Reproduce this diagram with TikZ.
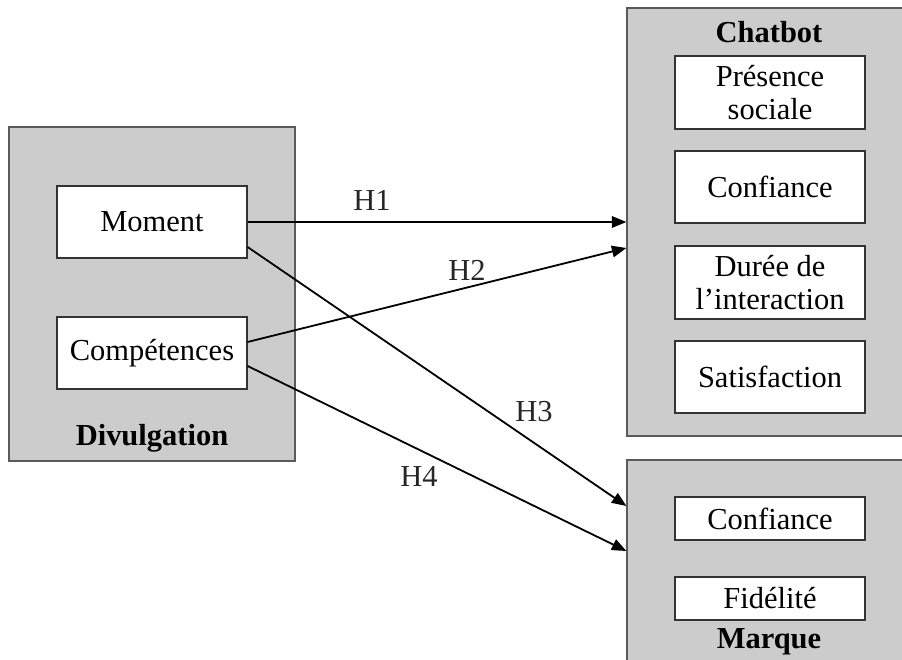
\documentclass[tikz,border=0pt]{standalone}
\usepackage{fontspec}
\setmainfont{Liberation Serif}
\usepackage{tikz}
\usetikzlibrary{arrows.meta,calc}
\definecolor{groupGray}{HTML}{CCCCCC}
\definecolor{groupEdge}{HTML}{5A5A5A}
\definecolor{itemEdge}{HTML}{333333}
\tikzset{
  >={Triangle[length=14.5bp,width=11.5bp]},
  every picture/.append style={font=\fontsize{30.6}{33.3}\selectfont},
  group/.style={rectangle,draw=groupEdge,line width=1.2bp,fill=groupGray,inner sep=0pt},
  item/.style={rectangle,draw=itemEdge,line width=1.1bp,fill=white,inner sep=0pt,align=center,minimum width=190bp},
  grouplabel/.style={font=\fontsize{30.6}{33.3}\selectfont\bfseries},
  hyplabel/.style={text=black!85},
  hyparrow/.style={->,line width=1.8bp},
}

\begin{document}
\begin{tikzpicture}[x=1bp,y=1bp]
  \useasboundingbox (0,0) rectangle (902,660);
  \clip (0,0) rectangle (902,660);

  % Divulgation
  \node[group, minimum width=286bp, minimum height=334bp] (divul) at (152,366) {};
  \node[grouplabel] (divultitle) at (152,222) {Divulgation};
  \node[item, minimum height=72bp] (moment) at (152,438) {Moment};
  \node[item, minimum height=72bp] (comp) at (152,307) {Compétences};

  % Chatbot
  \node[group, minimum width=303bp, minimum height=428bp] (chatbot) at (778.5,438) {};
  \node[grouplabel] (chatbottitle) at (769,628) {Chatbot};
  \node[item, minimum height=73bp] (presence) at (770,567.5) {Présence\\sociale};
  \node[item, minimum height=72bp] (confchat) at (770,473) {Confiance};
  \node[item, minimum height=73bp] (duree) at (770,377.5) {Durée de\\l’interaction};
  \node[item, minimum height=72bp] (satis) at (770,283) {Satisfaction};

  % Marque
  \node[group, minimum width=303bp, minimum height=220bp] (marque) at (778.5,90) {};
  \node[item, minimum height=43bp] (confmarque) at (770,141.5) {Confiance};
  \node[item, minimum height=43bp] (fidel) at (770,61.5) {Fidélité};
  \node[grouplabel] (marquetitle) at (769,18) {Marque};

  % hypotheses
  \draw[hyparrow] (moment.east) -- (moment.east -| chatbot.west);
  \draw[hyparrow] ($(comp.east)+(0,11)$) -- ($(chatbot.west)+(0,-26)$);
  \draw[hyparrow] ($(moment.east)+(0,-25)$) -- ($(marque.west)+(0,64)$);
  \draw[hyparrow] ($(comp.east)+(0,-13)$) -- ($(marque.west)+(0,19)$);

  \node[hyplabel] (h1) at (372,460) {H1};
  \node[hyplabel] (h2) at (467,390) {H2};
  \node[hyplabel] (h3) at (534,248) {H3};
  \node[hyplabel] (h4) at (419,184) {H4};
\end{tikzpicture}
\end{document}
